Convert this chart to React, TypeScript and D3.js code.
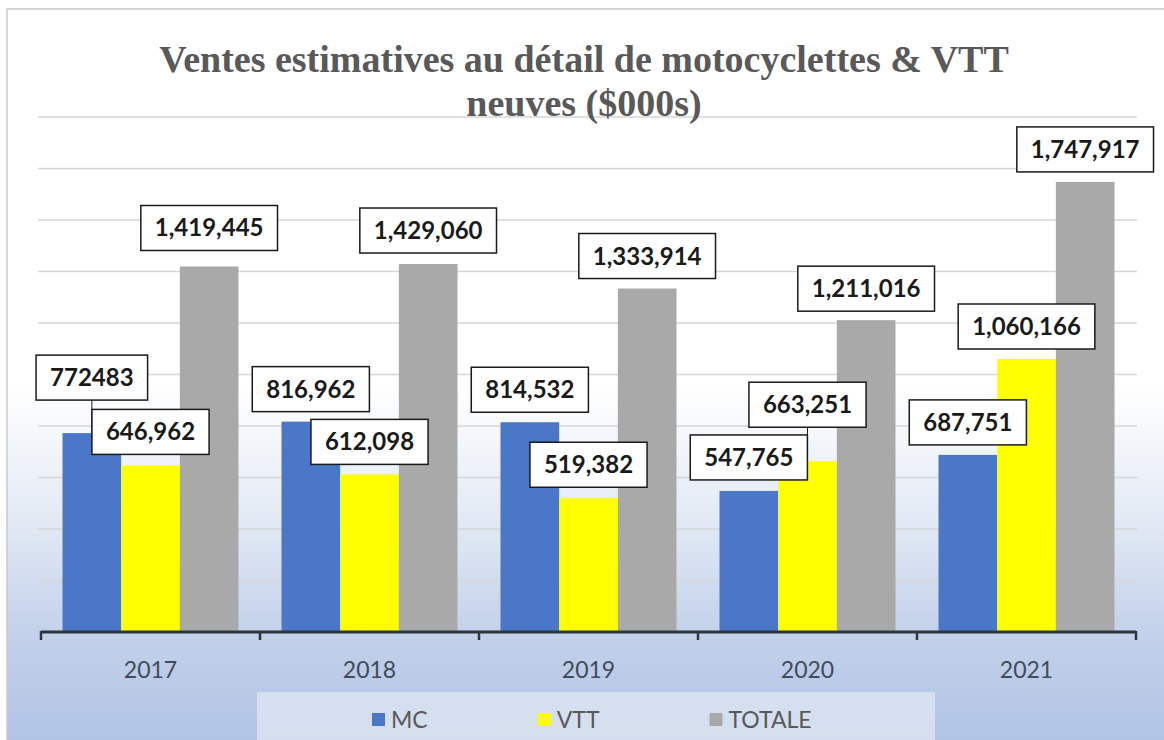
import React, { useEffect, useRef } from "react";
import * as d3 from "d3";

// annees et series
const years = ["2017", "2018", "2019", "2020", "2021"];
const seriesNames = ["MC", "VTT", "TOTALE"];
const mcValues = [772483, 816962, 814532, 547765, 687751];
const vttValues = [646962, 612098, 519382, 663251, 1060166];
const totalValues = [1419445, 1429060, 1333914, 1211016, 1747917];
// texte des etiquettes tel qu'affiche (la 1ere n'a pas de separateur)
const mcLabels = ["772483", "816,962", "814,532", "547,765", "687,751"];
const vttLabels = ["646,962", "612,098", "519,382", "663,251", "1,060,166"];
const totalLabels = ["1,419,445", "1,429,060", "1,333,914", "1,211,016", "1,747,917"];
const yTicks = [200000, 400000, 600000, 800000, 1000000, 1200000, 1400000, 1600000, 1800000, 2000000];

const titleLines = ["Ventes estimatives au détail de motocyclettes & VTT", "neuves ($000s)"];

const W = 1164;
const H = 740;

const App = () => {
  const ref = useRef<SVGSVGElement>(null);

  useEffect(() => {
    const svg = d3.select(ref.current);
    svg.selectAll("*").remove();

    const colors = ["#4a77c8", "#ffff00", "#a9a9a9"];
    const values = [mcValues, vttValues, totalValues];
    const labels = [mcLabels, vttLabels, totalLabels];
    // distance entre le haut de la barre et le bas de l'etiquette (etiquettes deplacees a la main)
    const lift = [
      [33, 10, 10, 11, 10],
      [11, 10, 11, 34, 10],
      [16, 11, 10, 9, 10],
    ];

    const x = d3.scaleBand().domain(years).range([41, 1136]);
    const xs = d3.scaleBand().domain(seriesNames).range([21.5, 197.5]);
    const y = d3.scaleLinear().domain([0, 2000000]).range([632, 117]);

    const defs = svg.append("defs");
    const grad = defs
      .append("linearGradient")
      .attr("id", "bg")
      .attr("x1", 0).attr("y1", 0).attr("x2", 0).attr("y2", 1);
    [
      [0, "#ffffff"],
      [0.5, "#ffffff"],
      [0.68, "#e3eaf5"],
      [0.83, "#c3d1ea"],
      [1, "#aec2e4"],
    ].forEach(([o, c]) => grad.append("stop").attr("offset", o).attr("stop-color", c));

    svg.append("rect").attr("width", W).attr("height", H).attr("fill", "#fff");
    svg
      .append("rect")
      .attr("x", 7).attr("y", 9)
      .attr("width", 1170).attr("height", 750)
      .attr("fill", "url(#bg)")
      .attr("stroke", "#c9c9c9")
      .attr("stroke-width", 1.5);

    // lignes de grille
    svg
      .append("g")
      .selectAll("line")
      .data(yTicks)
      .enter()
      .append("line")
      .attr("x1", 38).attr("x2", 1137)
      .attr("y1", (d) => y(d)).attr("y2", (d) => y(d))
      .attr("stroke", "#d6d6d6")
      .attr("stroke-width", 1.5);

    // titre
    svg
      .append("g")
      .selectAll("text")
      .data(titleLines)
      .enter()
      .append("text")
      .attr("x", 584)
      .attr("y", (d, i) => 72 + i * 44)
      .attr("text-anchor", "middle")
      .attr("font-family", "'Liberation Serif', 'DejaVu Serif', serif")
      .attr("font-weight", "bold")
      .attr("font-size", 38)
      .attr("fill", "#595959")
      .text((d) => d);

    // barres
    seriesNames.forEach((s, si) => {
      svg
        .append("g")
        .selectAll("rect")
        .data(years)
        .enter()
        .append("rect")
        .attr("x", (d) => x(d)! + xs(s)!)
        .attr("y", (d, i) => y(values[si][i]))
        .attr("width", xs.bandwidth())
        .attr("height", (d, i) => y(0) - y(values[si][i]))
        .attr("fill", colors[si]);
    });

    // axe X
    const axis = svg.append("g");
    axis
      .append("line")
      .attr("x1", 41).attr("x2", 1136)
      .attr("y1", 632).attr("y2", 632)
      .attr("stroke", "#2f3540")
      .attr("stroke-width", 3);
    const bounds = years.map((d) => x(d)!).concat([x.range()[1]]);
    axis
      .selectAll(".tick")
      .data(bounds)
      .enter()
      .append("line")
      .attr("x1", (d) => d).attr("x2", (d) => d)
      .attr("y1", 631).attr("y2", 640)
      .attr("stroke", "#2f3540")
      .attr("stroke-width", 2.5);
    axis
      .selectAll("text")
      .data(years)
      .enter()
      .append("text")
      .attr("x", (d) => x(d)! + x.bandwidth() / 2)
      .attr("y", 678)
      .attr("text-anchor", "middle")
      .attr("font-family", "Lato, 'Open Sans', sans-serif")
      .attr("font-size", 23)
      .attr("fill", "#414b5a")
      .text((d) => d);

    // etiquettes de donnees
    const labelLayer = svg.append("g");
    const leaders = labelLayer.append("g");
    seriesNames.forEach((s, si) => {
      years.forEach((yr, i) => {
        const cx = x(yr)! + xs(s)! + xs.bandwidth() / 2;
        const top = y(values[si][i]);
        const bottom = top - lift[si][i];
        const g = labelLayer.append("g");
        const box = g.append("rect");
        const t = g
          .append("text")
          .attr("x", cx)
          .attr("y", bottom - 14)
          .attr("text-anchor", "middle")
          .attr("font-family", "Lato, 'Open Sans', sans-serif")
          .attr("font-weight", "bold")
          .attr("font-size", 24)
          .attr("fill", "#1a1a1a")
          .text(labels[si][i]);
        const tw = (t.node() as SVGTextElement).getComputedTextLength();
        const bw = tw + 28;
        box
          .attr("x", cx - bw / 2)
          .attr("y", bottom - 45)
          .attr("width", bw)
          .attr("height", 45)
          .attr("fill", "#fff")
          .attr("stroke", "#1a1a1a")
          .attr("stroke-width", 1.5);
        if (lift[si][i] > 20) {
          leaders
            .append("line")
            .attr("x1", cx).attr("x2", cx)
            .attr("y1", bottom).attr("y2", top)
            .attr("stroke", "#1a1a1a")
            .attr("stroke-width", 1);
        }
      });
    });

    // legende
    const leg = svg.append("g");
    leg
      .append("rect")
      .attr("x", 257).attr("y", 692)
      .attr("width", 678).attr("height", 60)
      .attr("fill", "#dbe3f0")
      .attr("opacity", 0.85);
    let lx = 372;
    seriesNames.forEach((s, si) => {
      leg
        .append("rect")
        .attr("x", lx).attr("y", 713)
        .attr("width", 13).attr("height", 13)
        .attr("fill", colors[si]);
      const t = leg
        .append("text")
        .attr("x", lx + 19)
        .attr("y", 728)
        .attr("font-family", "Lato, 'Open Sans', sans-serif")
        .attr("font-size", 23)
        .attr("fill", "#595959")
        .text(s);
      const tw = (t.node() as SVGTextElement).getComputedTextLength();
      lx += 19 + tw + 110;
    });
  }, []);

  return (
    <svg
      ref={ref}
      width={W}
      height={H}
      style={{ position: "absolute", left: 0, top: 0 }}
    />
  );
};

export default App;
